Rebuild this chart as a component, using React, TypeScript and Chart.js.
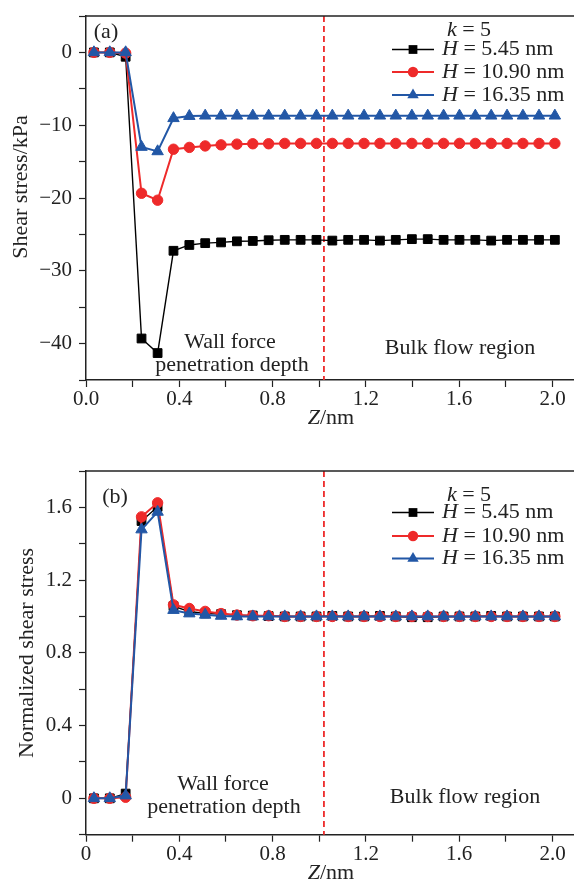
import React, { useEffect, useRef } from 'react';
import { Chart, registerables } from 'chart.js';

Chart.register(...registerables);

const SERIF = '"Liberation Serif", "Times New Roman", serif';
const BLACK = '#000000';
const RED = '#ee2a2a';
const BLUE = '#2257a6';
const AXIS = '#222222';

// Z positions (nm) of the bins
const zNm = [
  0.034, 0.102, 0.170, 0.238, 0.307, 0.375, 0.443, 0.511, 0.579, 0.647,
  0.715, 0.783, 0.852, 0.920, 0.988, 1.056, 1.124, 1.192, 1.260, 1.328,
  1.397, 1.465, 1.533, 1.601, 1.669, 1.737, 1.805, 1.873, 1.942, 2.010,
];

const seriesNames = ['5.45', '10.90', '16.35'];
const kValue = '5';
const boundaryZ = 1.02;

// (a) shear stress, kPa
const shearH545 = [
  0, 0, -0.6, -39.3, -41.3, -27.25, -26.45, -26.2, -26.1, -25.95,
  -25.9, -25.8, -25.75, -25.75, -25.75, -25.85, -25.75, -25.75, -25.85, -25.75,
  -25.65, -25.65, -25.75, -25.75, -25.75, -25.85, -25.75, -25.75, -25.75, -25.75,
];
const shearH1090 = [
  0, 0, -0.1, -19.35, -20.3, -13.3, -13.05, -12.85, -12.7, -12.6,
  -12.55, -12.55, -12.5, -12.5, -12.5, -12.5, -12.5, -12.5, -12.5, -12.5,
  -12.5, -12.5, -12.5, -12.5, -12.5, -12.5, -12.5, -12.5, -12.5, -12.5,
];
const shearH1635 = [
  0, 0, 0, -13.0, -13.6, -9.05, -8.75, -8.7, -8.7, -8.7,
  -8.7, -8.7, -8.7, -8.7, -8.7, -8.7, -8.7, -8.7, -8.7, -8.7,
  -8.7, -8.7, -8.7, -8.7, -8.7, -8.7, -8.7, -8.7, -8.7, -8.7,
];

// (b) normalized shear stress
const normH545 = [
  0, 0, 0.026, 1.525, 1.603, 1.057, 1.027, 1.017, 1.013, 1.007,
  1.005, 1.002, 1.0, 1.0, 1.0, 1.003, 1.0, 1.0, 1.003, 1.0,
  0.996, 0.996, 1.0, 1.0, 1.0, 1.003, 1.0, 1.0, 1.0, 1.0,
];
const normH1090 = [
  0, 0, 0.006, 1.548, 1.625, 1.064, 1.044, 1.028, 1.016, 1.008,
  1.004, 1.004, 1.0, 1.0, 1.0, 1.0, 1.0, 1.0, 1.0, 1.0,
  1.0, 1.0, 1.0, 1.0, 1.0, 1.0, 1.0, 1.0, 1.0, 1.0,
];
const normH1635 = [
  0, 0, 0.015, 1.478, 1.575, 1.035, 1.016, 1.009, 1.003, 1.0,
  1.0, 1.0, 1.0, 1.0, 1.0, 1.0, 1.0, 1.0, 1.0, 1.0,
  1.0, 1.0, 1.0, 1.0, 1.0, 1.0, 1.0, 1.0, 1.0, 1.0,
];

const xMajor = [0, 0.4, 0.8, 1.2, 1.6, 2.0];
const xTickLabelsA = ['0.0', '0.4', '0.8', '1.2', '1.6', '2.0'];
const xTickLabelsB = ['0', '0.4', '0.8', '1.2', '1.6', '2.0'];
const yMajorA = [0, -10, -20, -30, -40];
const yTickLabelsA = ['0', '\u221210', '\u221220', '\u221230', '\u221240'];
const yMajorB = [0, 0.4, 0.8, 1.2, 1.6];
const yTickLabelsB = ['0', '0.4', '0.8', '1.2', '1.6'];

const colors = [BLACK, RED, BLUE];
const styles = ['rect', 'circle', 'triangle'];
const radii = [6.2, 5.2, 6.6];
const widths = [1.4, 2, 2];

function labelFor(major: number[], labels: string[]) {
  return (v: number) => {
    const i = major.findIndex((m) => Math.abs(m - v) < 1e-6);
    return i >= 0 ? labels[i] : '';
  };
}

type Seg = { t: string; it?: boolean };

function drawRich(ctx: CanvasRenderingContext2D, segs: Seg[], x: number, y: number, align: 'left' | 'center', size: number) {
  const fontOf = (s: Seg) => `${s.it ? 'italic ' : ''}${size}px ${SERIF}`;
  let total = 0;
  for (const s of segs) { ctx.font = fontOf(s); total += ctx.measureText(s.t).width; }
  let cx = align === 'center' ? x - total / 2 : x;
  ctx.textAlign = 'left';
  ctx.textBaseline = 'middle';
  for (const s of segs) {
    ctx.font = fontOf(s);
    ctx.fillText(s.t, cx, y);
    cx += ctx.measureText(s.t).width;
  }
}

function drawMarker(ctx: CanvasRenderingContext2D, style: string, x: number, y: number, r: number, color: string) {
  ctx.fillStyle = color;
  ctx.beginPath();
  if (style === 'rect') {
    const s = r * Math.SQRT1_2;
    ctx.rect(x - s, y - s, 2 * s, 2 * s);
  } else if (style === 'circle') {
    ctx.arc(x, y, r, 0, Math.PI * 2);
  } else {
    ctx.moveTo(x, y - r);
    ctx.lineTo(x + r * Math.sin(Math.PI / 3), y + r / 2);
    ctx.lineTo(x - r * Math.sin(Math.PI / 3), y + r / 2);
    ctx.closePath();
  }
  ctx.fill();
}

type PanelSpec = {
  tag: string;
  series: number[][];
  yMin: number; yMax: number; yStep: number;
  yMajor: number[]; yLabels: string[];
  xLabels: string[];
  padTop: number; xAxisHeight: number;
  yTitle: string; yTitleX: number; yTitleY: number;
  xTitleY: number;
  tagPos: [number, number];
  wallPos: [number, number, number, number];
  bulkPos: [number, number];
  legendY: number[];
};

const TEXT = 22;

function decorPlugin(p: PanelSpec) {
  return {
    id: 'decor' + p.tag,
    beforeDatasetsDraw(chart: any) {
      const { ctx, chartArea: a, scales } = chart;
      const px = scales.x.getPixelForValue(boundaryZ);
      ctx.save();
      ctx.strokeStyle = RED;
      ctx.lineWidth = 1.8;
      ctx.setLineDash([6, 4]);
      ctx.beginPath();
      ctx.moveTo(px, a.top);
      ctx.lineTo(px, a.bottom);
      ctx.stroke();
      ctx.restore();
    },
    afterDraw(chart: any) {
      const { ctx, chartArea: a } = chart;
      ctx.save();
      ctx.strokeStyle = AXIS;
      ctx.lineWidth = 1.5;
      ctx.beginPath();
      ctx.moveTo(a.left, a.top);
      ctx.lineTo(a.right, a.top);
      ctx.stroke();
      ctx.fillStyle = '#222';
      drawRich(ctx, [{ t: p.tag }], p.tagPos[0], p.tagPos[1], 'center', TEXT);
      drawRich(ctx, [{ t: 'Wall force' }], p.wallPos[0], p.wallPos[1], 'center', TEXT);
      drawRich(ctx, [{ t: 'penetration depth' }], p.wallPos[2], p.wallPos[3], 'center', TEXT);
      drawRich(ctx, [{ t: 'Bulk flow region' }], p.bulkPos[0], p.bulkPos[1], 'center', TEXT);
      // legend
      drawRich(ctx, [{ t: 'k', it: true }, { t: ' = ' + kValue }], 469, p.legendY[0], 'center', TEXT);
      for (let i = 0; i < 3; i++) {
        const y = p.legendY[i + 1];
        ctx.strokeStyle = colors[i];
        ctx.lineWidth = widths[i];
        ctx.beginPath();
        ctx.moveTo(392, y);
        ctx.lineTo(434, y);
        ctx.stroke();
        drawMarker(ctx, styles[i], 413, y, radii[i], colors[i]);
        ctx.fillStyle = '#222';
        drawRich(ctx, [{ t: 'H', it: true }, { t: ' = ' + seriesNames[i] + ' nm' }], 442, y, 'left', TEXT);
      }
      // axis titles
      drawRich(ctx, [{ t: 'Z', it: true }, { t: '/nm' }], 331, p.xTitleY, 'center', TEXT);
      ctx.translate(p.yTitleX, p.yTitleY);
      ctx.rotate(-Math.PI / 2);
      drawRich(ctx, [{ t: p.yTitle }], 0, 0, 'center', TEXT);
      ctx.restore();
    },
  };
}

function buildConfig(p: PanelSpec): any {
  const datasets = p.series.map((vals, i) => ({
    data: zNm.map((z, j) => ({ x: z, y: vals[j] })),
    borderColor: colors[i],
    backgroundColor: colors[i],
    pointBackgroundColor: colors[i],
    pointBorderColor: colors[i],
    pointBorderWidth: 1,
    pointStyle: styles[i],
    pointRadius: radii[i],
    borderWidth: widths[i],
    tension: 0,
    order: 3 - i,
  }));
  const tickFont = { family: SERIF, size: 21 };
  const grid = { drawOnChartArea: false, drawTicks: true, tickLength: 7, tickWidth: 1.2, tickColor: AXIS };
  return {
    type: 'line',
    data: { datasets },
    options: {
      animation: false,
      responsive: false,
      maintainAspectRatio: false,
      devicePixelRatio: 1,
      layout: { autoPadding: false, padding: { top: p.padTop, left: 0, right: 0, bottom: 0 } },
      plugins: { legend: { display: false }, tooltip: { enabled: false }, title: { display: false } },
      scales: {
        x: {
          type: 'linear',
          min: 0,
          max: 2.092,
          ticks: {
            stepSize: 0.2, includeBounds: false, autoSkip: false, maxRotation: 0, padding: 0,
            color: '#222', font: tickFont, callback: labelFor(xMajor, p.xLabels),
          },
          grid,
          border: { display: true, color: AXIS, width: 1.5 },
          afterFit: (s: any) => {
            s.height = p.xAxisHeight;
            s.paddingLeft = 0;
            s.paddingRight = 0;
          },
        },
        y: {
          type: 'linear',
          min: p.yMin,
          max: p.yMax,
          ticks: {
            stepSize: p.yStep, includeBounds: false, autoSkip: false, padding: 7,
            color: '#222', font: tickFont, callback: labelFor(p.yMajor, p.yLabels),
          },
          grid,
          border: { display: true, color: AXIS, width: 1.5 },
          afterFit: (s: any) => {
            s.width = 86;
            s.paddingTop = 0;
            s.paddingBottom = 0;
          },
        },
      },
    },
    plugins: [decorPlugin(p)],
  };
}

const panelA: PanelSpec = {
  tag: '(a)',
  series: [shearH545, shearH1090, shearH1635],
  yMin: -45, yMax: 5, yStep: 5,
  yMajor: yMajorA, yLabels: yTickLabelsA,
  xLabels: xTickLabelsA,
  padTop: 16, xAxisHeight: 61,
  yTitle: 'Shear stress/kPa', yTitleX: 21, yTitleY: 187,
  xTitleY: 418,
  tagPos: [106, 32],
  wallPos: [230, 342, 232, 365],
  bulkPos: [460, 348],
  legendY: [30, 49.5, 72, 95],
};

const panelB: PanelSpec = {
  tag: '(b)',
  series: [normH545, normH1090, normH1635],
  yMin: -0.2, yMax: 1.8, yStep: 0.2,
  yMajor: yMajorB, yLabels: yTickLabelsB,
  xLabels: xTickLabelsB,
  padTop: 30, xAxisHeight: 47.3,
  yTitle: 'Normalized shear stress', yTitleX: 27, yTitleY: 212,
  xTitleY: 432,
  tagPos: [115, 56],
  wallPos: [223, 343, 224, 366],
  bulkPos: [465, 356],
  legendY: [54, 71.5, 95, 117.5],
};

function Panel({ spec, top }: { spec: PanelSpec; top: number }) {
  const ref = useRef<HTMLCanvasElement | null>(null);
  useEffect(() => {
    if (!ref.current) return;
    const chart = new Chart(ref.current, buildConfig(spec));
    return () => chart.destroy();
  }, [spec]);
  return (
    <canvas
      ref={ref}
      width={574}
      height={441}
      style={{ position: 'absolute', left: 0, top, width: 574, height: 441, display: 'block' }}
    />
  );
}

export default function App() {
  return (
    <div style={{ position: 'absolute', left: 0, top: 0, width: 574, height: 882, background: '#fff' }}>
      <Panel spec={panelA} top={0} />
      <Panel spec={panelB} top={441} />
    </div>
  );
}
